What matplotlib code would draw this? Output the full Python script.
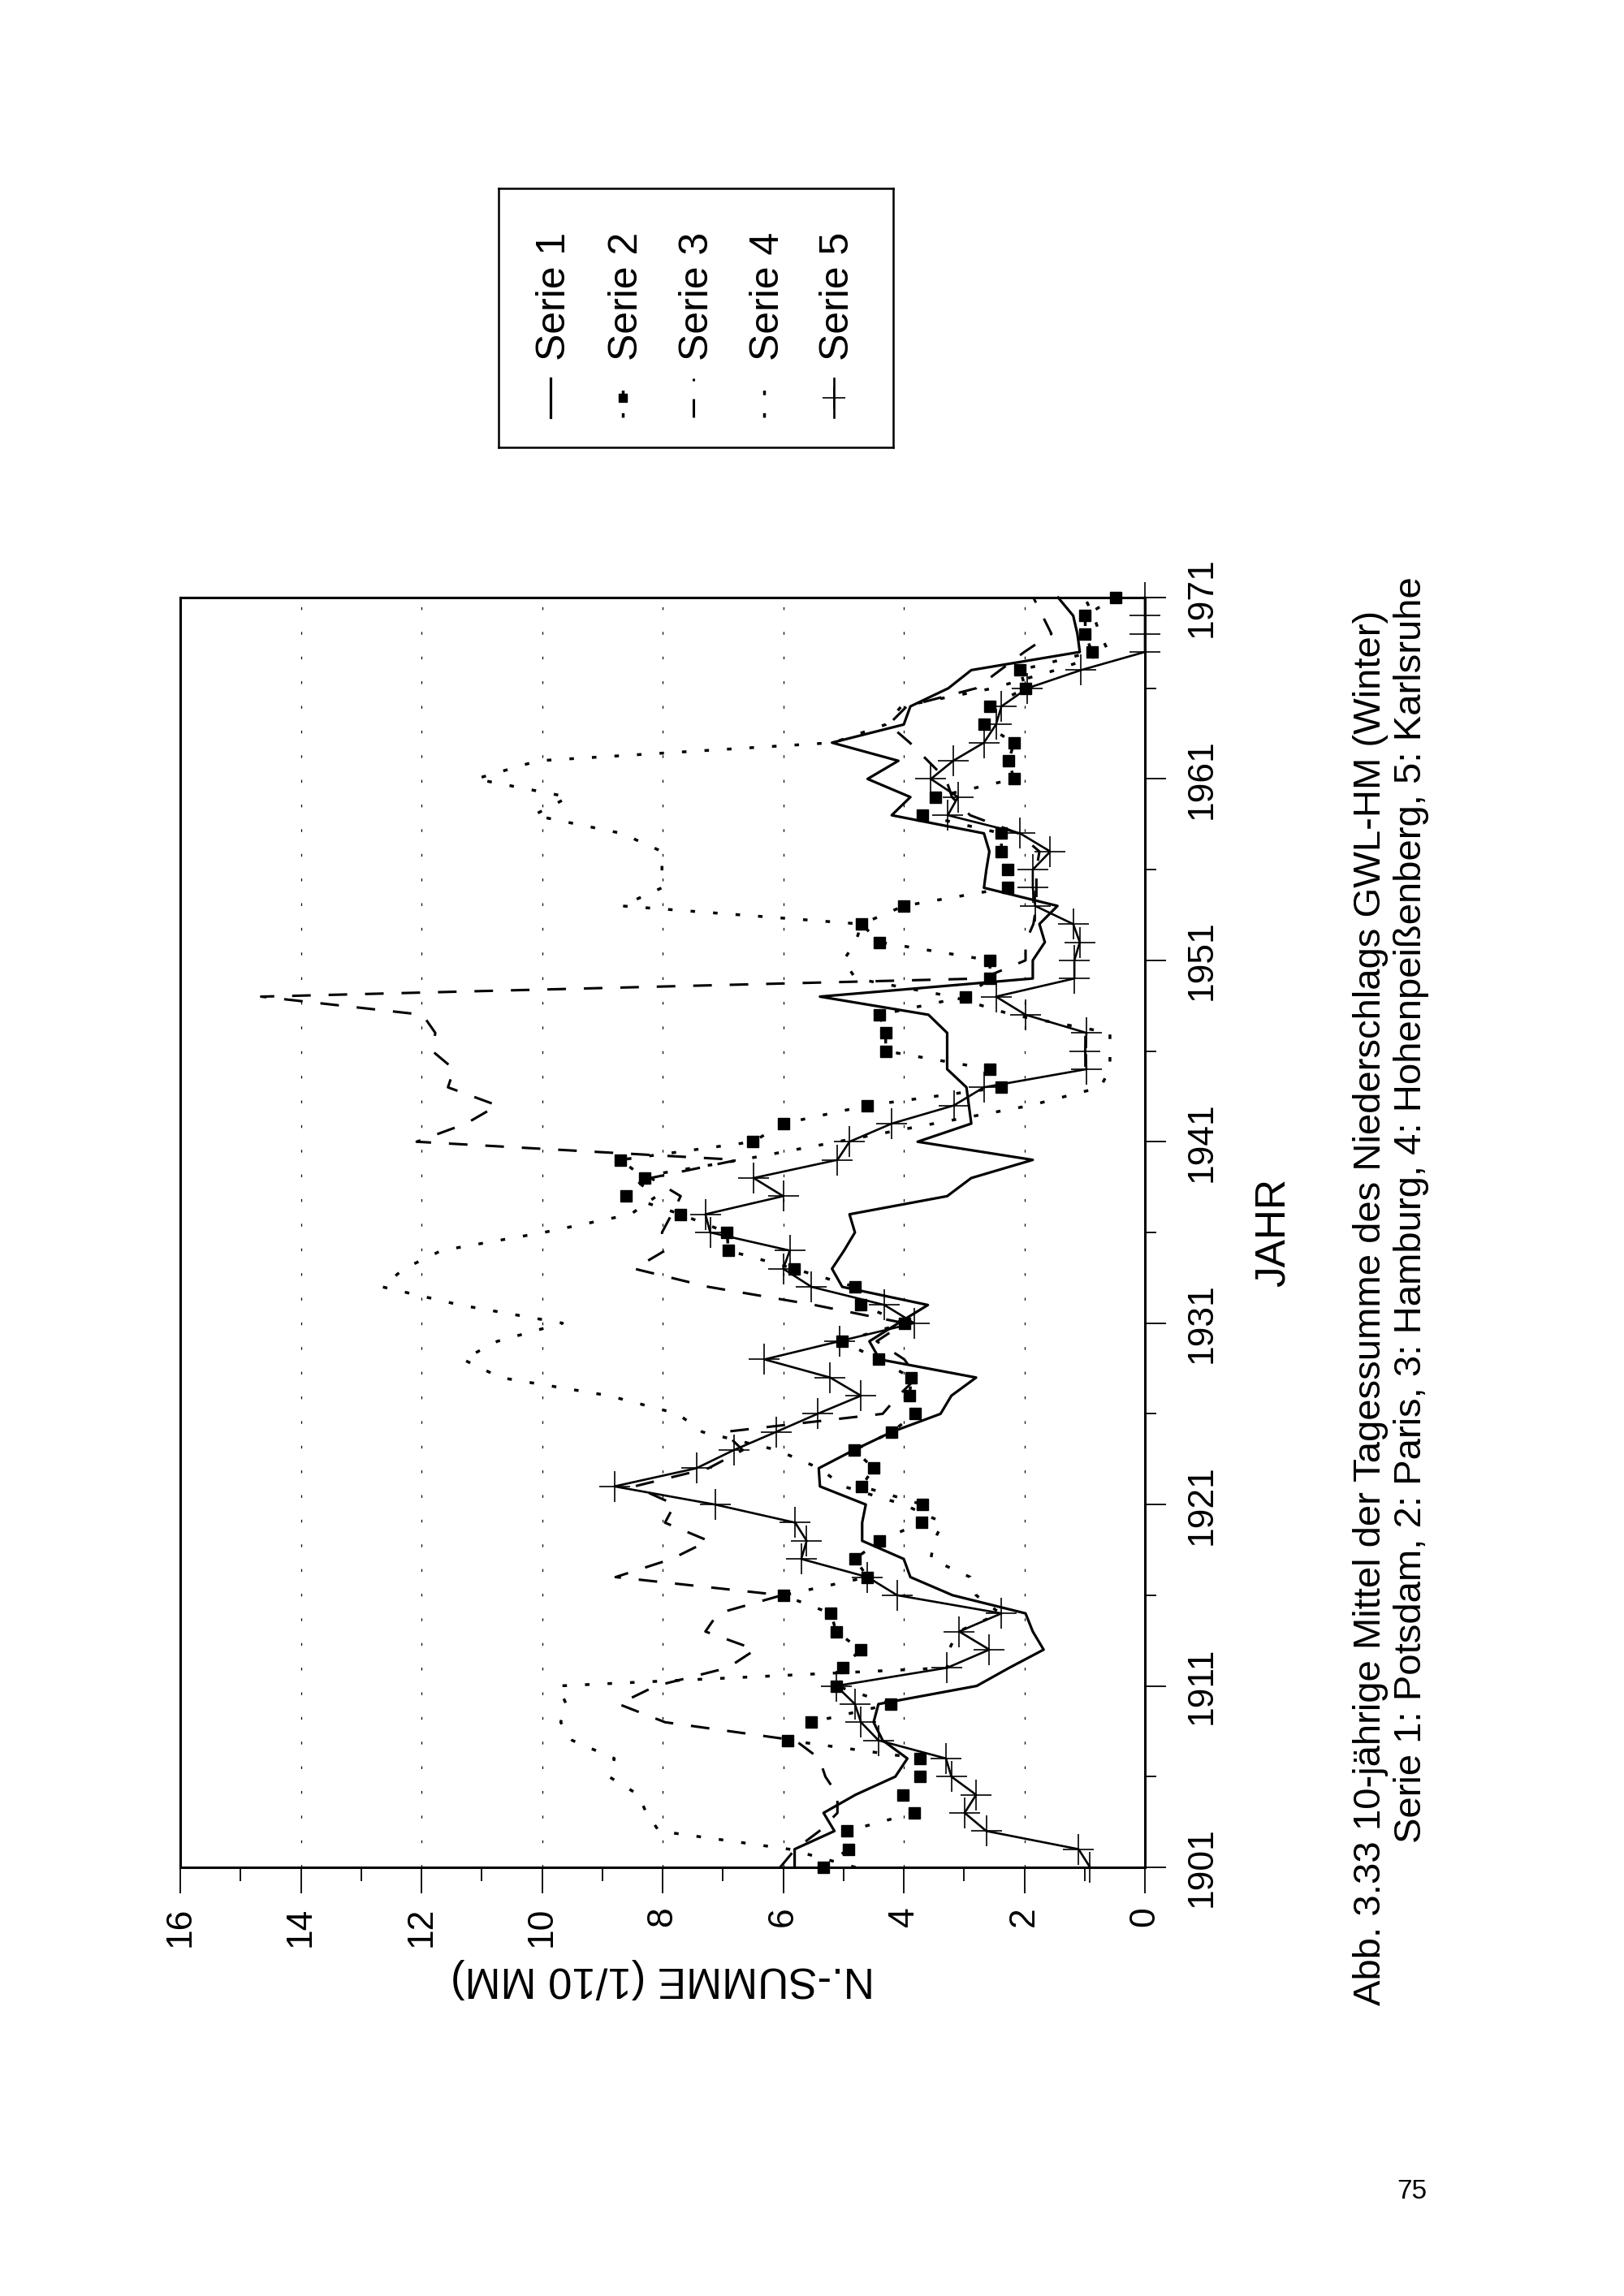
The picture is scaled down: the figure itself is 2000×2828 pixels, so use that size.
import matplotlib
matplotlib.use('Agg')
import matplotlib.pyplot as plt
from matplotlib.ticker import FixedLocator

# ---------------- data ----------------
years = list(range(1901, 1972))

serie1 = [5.81, 5.81, 5.15, 5.33, 4.80, 4.14, 3.94, 4.35, 4.50, 4.42,
          2.79, 2.25, 1.68, 1.86, 1.98, 3.19, 3.89, 4.00, 4.69, 4.69,
          4.63, 5.39, 5.41, 4.83, 4.20, 3.39, 3.21, 2.80, 4.40, 4.57,
          4.09, 3.60, 5.02, 5.19, 4.99, 4.81, 4.90, 3.28, 2.88, 1.86,
          3.77, 2.88, 2.92, 2.96, 3.28, 3.28, 3.28, 3.59, 5.39, 1.86,
          1.86, 1.66, 1.75, 1.45, 2.67, 2.63, 2.58, 2.67, 4.20, 3.89,
          4.60, 4.09, 5.19, 4.00, 3.89, 3.26, 2.88, 1.08, 1.12, 1.19,
          1.44]

serie2 = [5.33, 4.92, 4.94, 3.83, 4.01, 3.73, 3.73, 5.92, 5.53, 4.22,
          5.12, 5.01, 4.72, 5.12, 5.21, 6.00, 4.60, 4.81, 4.40, 3.71,
          3.69, 4.70, 4.50, 4.82, 4.20, 3.81, 3.90, 3.88, 4.42, 5.02,
          3.99, 4.71, 4.81, 5.82, 6.91, 6.93, 7.70, 8.60, 8.30, 8.70,
          6.50, 6.00, 4.60, 2.38, 2.57, 4.30, 4.30, 4.40, 2.97, 2.57,
          2.57, 4.40, 4.70, 4.00, 2.27, 2.27, 2.38, 2.38, 3.69, 3.48,
          2.17, 2.26, 2.17, 2.67, 2.57, 1.98, 2.07, 0.88, 0.99, 0.99,
          0.49]

serie3 = [6.05, 5.80, 5.40, 5.10, 5.10, 5.30, 5.40, 5.80, 7.96, 8.73,
          8.11, 6.92, 6.46, 7.29, 7.08, 6.02, 8.78, 7.85, 7.24, 7.96,
          7.80, 8.47, 7.24, 6.67, 6.98, 4.35, 4.09, 3.78, 3.99, 4.45,
          3.99, 5.48, 7.24, 8.47, 7.96, 8.01, 7.85, 7.70, 8.20, 6.75,
          12.08, 11.26, 10.74, 11.56, 11.46, 11.82, 11.77, 11.98, 14.66, 2.70,
          1.98, 1.98, 1.85, 1.80, 1.80, 1.80, 1.75, 2.10, 2.90, 3.20,
          3.30, 3.60, 3.90, 4.25, 3.95, 2.80, 2.40, 2.00, 1.55, 1.70,
          1.85]

serie4 = [4.80, 5.90, 8.06, 8.27, 8.40, 8.89, 8.80, 9.50, 9.69, 9.60,
          9.73, 3.28, 3.25, 3.10, 2.40, 2.80, 2.90, 3.55, 3.50, 3.35,
          4.00, 5.00, 5.40, 6.10, 7.34, 7.75, 8.89, 10.69, 11.31, 10.74,
          9.66, 11.36, 12.65, 12.29, 11.67, 9.97, 8.53, 8.10, 8.50, 6.70,
          5.10, 3.50, 1.90, 0.74, 0.58, 0.58, 0.58, 2.20, 3.20, 4.80,
          5.00, 4.80, 4.70, 8.68, 8.01, 8.01, 8.01, 8.68, 10.14, 9.56,
          11.10, 10.07, 5.17, 4.30, 4.04, 2.52, 1.48, 0.60, 0.75, 0.85,
          1.00]

serie5 = [0.91, 1.10, 2.63, 2.99, 2.80, 3.21, 3.30, 4.42, 4.71, 4.81,
          5.12, 3.28, 2.58, 3.08, 2.38, 4.11, 4.60, 5.70, 5.61, 5.80,
          7.13, 8.80, 7.44, 6.82, 6.12, 5.43, 4.71, 5.22, 6.31, 5.07,
          3.83, 4.32, 5.53, 6.00, 5.89, 7.21, 7.29, 6.00, 6.49, 5.10,
          4.90, 4.20, 3.17, 2.67, 0.97, 0.99, 0.97, 1.98, 2.47, 1.17,
          1.17, 1.08, 1.19, 1.82, 1.86, 1.86, 1.57, 2.07, 3.27, 3.10,
          3.55, 3.18, 2.67, 2.47, 2.38, 1.95, 1.06, 0.00, 0.00, 0.00,
          0.00]

value_ticks = [0, 2, 4, 6, 8, 10, 12, 14, 16]
value_minor = [1, 3, 5, 7, 9, 11, 13, 15]
year_ticks = [1901, 1911, 1921, 1931, 1941, 1951, 1961, 1971]
year_minor = [1906, 1916, 1926, 1936, 1946, 1956, 1966]
series_names = ['Serie 1', 'Serie 2', 'Serie 3', 'Serie 4', 'Serie 5']

caption1 = 'Abb. 3.33 10-jährige Mittel der Tagessumme des Niederschlags GWL-HM (Winter)'
caption2 = 'Serie 1: Potsdam, 2: Paris, 3: Hamburg, 4: Hohenpeißenberg, 5: Karlsruhe'

# ---------------- styles ----------------
plt.rcParams['font.family'] = ['Liberation Sans', 'DejaVu Sans']
DOT = (0, (1.6, 6.4))
styles = [
    dict(color='black', lw=2.3, ls='-'),
    dict(color='black', lw=2.5, ls=DOT, marker='s', ms=10, mfc='black', mec='black'),
    dict(color='black', lw=2.2, ls=(0, (7.5, 7.2))),
    dict(color='black', lw=2.5, ls=DOT),
    dict(color='black', lw=1.9, ls='-', marker='+', ms=28, mew=1.2),
]

W, H = 2000, 2828
fig = plt.figure(figsize=(W / 100, H / 100), dpi=100)
fig.patch.set_facecolor('white')


def fx(px):
    return px / W


def fy(py):
    return 1 - py / H


AX_L, AX_R, AX_T, AX_B = 222, 1410, 736, 2300
ax = fig.add_axes([fx(AX_L), fy(AX_B), (AX_R - AX_L) / W, (AX_B - AX_T) / H])

for data, st in zip([serie1, serie2, serie3, serie4, serie5], styles):
    ax.plot(data, years, clip_on=False, zorder=3, **st)

ax.set_xlim(16, 0)
ax.set_ylim(1901, 1971)

ax.xaxis.set_major_locator(FixedLocator(value_ticks))
ax.xaxis.set_minor_locator(FixedLocator(value_minor))
ax.set_xticklabels([str(v) for v in value_ticks])
ax.yaxis.tick_right()
ax.yaxis.set_major_locator(FixedLocator(year_ticks))
ax.yaxis.set_minor_locator(FixedLocator(year_minor))
ax.set_yticklabels([str(y) for y in year_ticks])

ax.tick_params(axis='x', which='major', direction='out', length=23, width=1.3,
               pad=12, labelsize=32, labelrotation=90)
ax.tick_params(axis='x', which='minor', direction='out', length=12, width=1.3)
ax.tick_params(axis='y', which='major', direction='out', length=19, width=1.3,
               pad=17, labelsize=32, labelrotation=90, right=True, left=False,
               labelright=True, labelleft=False)
ax.tick_params(axis='y', which='minor', direction='out', length=10, width=1.3,
               right=True, left=False)
for lbl in ax.get_yticklabels():
    lbl.set_va('center')
for lbl in ax.get_xticklabels():
    lbl.set_ha('center')
    lbl.set_va('top')

ax.grid(axis='x', which='major', color='black', lw=0.9, ls=(0, (2.7, 21.6)))
ax.set_axisbelow(True)
for sp in ax.spines.values():
    sp.set_linewidth(2.2)
    sp.set_color('black')

# axis titles (rotated page)
fig.text(fx(816), fy(2437), 'N.-SUMME (1/10 MM)', rotation=180,
         ha='center', va='center', fontsize=38)
fig.text(fx(1568), fy(1518), 'JAHR', rotation=90, ha='center', va='center',
         fontsize=37)

# caption, fitted to the measured length
t1 = fig.text(fx(1688), fy(2470), caption1, rotation=90, rotation_mode='anchor',
              ha='left', va='center', fontsize=28)
t2 = fig.text(fx(1738), fy(2270), caption2, rotation=90, rotation_mode='anchor',
              ha='left', va='center', fontsize=28)
renderer = fig.canvas.get_renderer()
length = t1.get_window_extent(renderer).height
fs = 28 * 1720 / length
t1.set_fontsize(fs)
t2.set_fontsize(fs)

fig.text(fx(1739), fy(2700), '75', ha='center', va='center', fontsize=24)

# ---------------- legend (rotated) ----------------
LG_L, LG_R, LG_T, LG_B = 614, 1100, 232, 551
lax = fig.add_axes([fx(LG_L), fy(LG_B), (LG_R - LG_L) / W, (LG_B - LG_T) / H])
lax.set_xlim(LG_L, LG_R)
lax.set_ylim(LG_B, LG_T)
lax.set_xticks([])
lax.set_yticks([])
for sp in lax.spines.values():
    sp.set_linewidth(1.8)
cols = [683, 772, 859, 946, 1032]
for name, st, cx in zip(series_names, styles, cols):
    sst = dict(st)
    mk = sst.pop('marker', None)
    sst.pop('ms', None)
    mew = sst.pop('mew', None)
    sst.pop('mfc', None)
    sst.pop('mec', None)
    lax.plot([cx - 5, cx - 5], [514, 466], **sst)
    if mk is not None:
        kw = dict(color='black', ls='none', marker=mk,
                  ms=(7 if mk == 's' else 20))
        if mew is not None:
            kw['mew'] = mew
        lax.plot([cx - 5], [490], **kw)
    lax.text(cx, 444, name, rotation=90, rotation_mode='anchor', ha='left',
             va='center', fontsize=36)

fig.savefig('out.png', dpi=100, facecolor='white')
